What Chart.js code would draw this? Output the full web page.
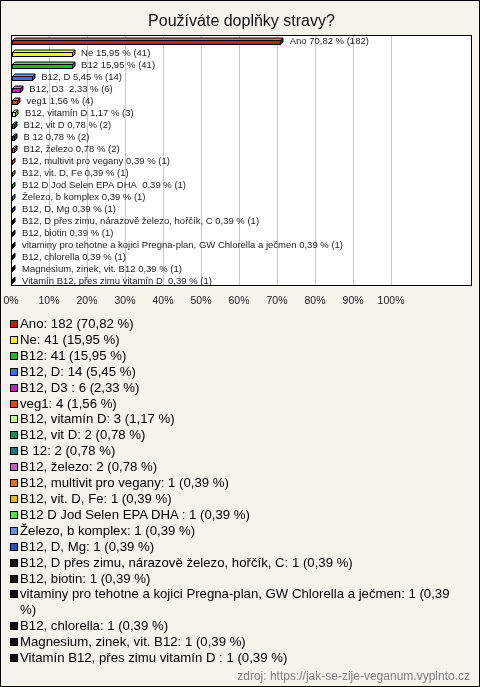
<!DOCTYPE html>
<html>
<head>
<meta charset="utf-8">
<script src="https://cdn.jsdelivr.net/npm/chart.js@4/dist/chart.umd.min.js"></script>
<style>
body { margin: 0; background: #fff; }
#box { position: relative; width: 478px; height: 685px; border: 1px solid #000; background: #f4f3ec;
       font-family: 'Liberation Sans', Arial, sans-serif; overflow: hidden; }
#c { position: absolute; left: 0; top: 0; }
#legend { position: absolute; left: 9px; top: 315px; width: 452px; margin: 0; padding: 0; list-style: none;
          font-size: 13.2px; line-height: 15.9px; color: #000; }
#legend li { display: flex; align-items: flex-start; }
#legend .sw { flex: 0 0 auto; width: 6px; height: 6px; border: 1px solid #000; margin: 4px 2px 0 0; }
#zdroj { position: absolute; right: 9px; top: 668px; font-size: 12px; color: #808080; }
</style>
</head>
<body>
<div id="box">
  <canvas id="c" width="478" height="319"></canvas>
  <ul id="legend"></ul>
  <div id="zdroj">zdroj: https://jak-se-zije-veganum.vyplnto.cz</div>
</div>
<script>
// data
var categories = ['Ano', 'Ne', 'B12', 'B12, D', 'B12, D3 ', 'veg1', 'B12, vitamín D', 'B12, vit D', 'B 12',
    'B12, železo', 'B12, multivit pro vegany', 'B12, vit. D, Fe', 'B12 D Jod Selen EPA DHA ',
    'Železo, b komplex', 'B12, D, Mg', 'B12, D přes zimu, nárazově železo, hořčík, C', 'B12, biotin',
    'vitaminy pro tehotne a kojici Pregna-plan, GW Chlorella a ječmen', 'B12, chlorella',
    'Magnesium, zinek, vit. B12', 'Vitamín B12, přes zimu vitamín D '];
var counts = [182, 41, 41, 14, 6, 4, 3, 2, 2, 2, 1, 1, 1, 1, 1, 1, 1, 1, 1, 1, 1];
var percents = [70.82, 15.95, 15.95, 5.45, 2.33, 1.56, 1.17, 0.78, 0.78, 0.78, 0.39, 0.39, 0.39, 0.39,
    0.39, 0.39, 0.39, 0.39, 0.39, 0.39, 0.39];
var barColors = ['#c0200c', '#ffee22', '#22b822', '#3d6de8', '#c020c0', '#e04818', '#c8f890', '#18905c',
    '#187888', '#c060c0', '#e07018', '#e8b818', '#48e840', '#6890e0', '#2850c0', '#111111', '#111111',
    '#111111', '#111111', '#111111', '#111111'];
var chartTitle = 'Používáte doplňky stravy?';

function czPct(v) {
    return v.toFixed(2).replace('.', ',');
}

function shade(hex, amt) {
    var n = parseInt(hex.slice(1), 16);
    var r = n >> 16, g = (n >> 8) & 255, b = n & 255;
    function f(c) {
        return Math.round(amt > 0 ? c + (255 - c) * amt : c * (1 + amt));
    }
    return 'rgb(' + f(r) + ',' + f(g) + ',' + f(b) + ')';
}

// legend as html list
var ul = document.getElementById('legend');
categories.forEach(function (c, i) {
    var li = document.createElement('li');
    var sw = document.createElement('span');
    sw.className = 'sw';
    sw.style.background = barColors[i];
    var tx = document.createElement('span');
    tx.textContent = c + ': ' + counts[i] + ' (' + czPct(percents[i]) + ' %)';
    li.appendChild(sw);
    li.appendChild(tx);
    ul.appendChild(li);
});

var plotFrame = {
    id: 'plotFrame',
    beforeDraw: function (chart) {
        var a = chart.chartArea, ctx = chart.ctx;
        ctx.save();
        ctx.fillStyle = '#fff';
        ctx.fillRect(a.left, a.top, a.right - a.left, a.bottom - a.top);
        ctx.restore();
    },
    afterDatasetsDraw: function (chart) {
        var ctx = chart.ctx, d = 2.5;
        var meta = chart.getDatasetMeta(0);
        ctx.save();
        ctx.lineWidth = 1;
        ctx.strokeStyle = '#000';
        meta.data.forEach(function (bar, i) {
            var x0 = Math.round(bar.base) + 0.5, x1 = Math.round(bar.x) + 0.5;
            var t = Math.round(bar.y - 1) + 0.5, b = t + 4;
            var col = barColors[i];
            // top face
            ctx.beginPath();
            ctx.moveTo(x0, t); ctx.lineTo(x0 + d, t - d); ctx.lineTo(x1 + d, t - d); ctx.lineTo(x1, t);
            ctx.closePath();
            ctx.fillStyle = shade(col, 0.35);
            ctx.fill(); ctx.stroke();
            // side face
            ctx.beginPath();
            ctx.moveTo(x1, t); ctx.lineTo(x1 + d, t - d); ctx.lineTo(x1 + d, b - d); ctx.lineTo(x1, b);
            ctx.closePath();
            ctx.fillStyle = shade(col, -0.35);
            ctx.fill(); ctx.stroke();
            // front
            ctx.fillStyle = col;
            ctx.fillRect(x0, t, x1 - x0, b - t);
            ctx.strokeRect(x0, t, x1 - x0, b - t);
        });
        ctx.fillStyle = '#222';
        ctx.font = '9.5px "Liberation Sans", Arial, sans-serif';
        ctx.textBaseline = 'middle';
        meta.data.forEach(function (bar, i) {
            var s = categories[i] + ' ' + czPct(percents[i]) + ' % (' + counts[i] + ')';
            ctx.fillText(s, bar.x + 9.5, bar.y + 0.5);
        });
        ctx.restore();
    },
    afterDraw: function (chart) {
        var a = chart.chartArea, ctx = chart.ctx;
        ctx.save();
        ctx.strokeStyle = '#000';
        ctx.lineWidth = 1;
        ctx.strokeRect(Math.round(a.left) + 0.5, Math.round(a.top) + 0.5,
            Math.round(a.right - a.left) - 1, Math.round(a.bottom - a.top) - 1);
        ctx.restore();
    }
};

new Chart(document.getElementById('c').getContext('2d'), {
    type: 'bar',
    data: {
        labels: categories,
        datasets: [{
            data: percents,
            backgroundColor: 'rgba(0,0,0,0)',
            borderWidth: 0
        }]
    },
    options: {
        indexAxis: 'y',
        responsive: false,
        animation: false,
        layout: { padding: { left: 10, right: 7, top: 0, bottom: 5 } },
        plugins: {
            legend: { display: false },
            tooltip: { enabled: false },
            title: {
                display: true,
                text: chartTitle,
                color: '#111',
                font: { size: 16, family: "'Liberation Sans', Arial, sans-serif", weight: 'normal' },
                padding: { top: 11, bottom: 3.8 }
            }
        },
        scales: {
            y: { display: false },
            x: {
                min: 0,
                max: 121.3,
                border: { display: false },
                afterFit: function (s) { s.paddingLeft = 0; s.paddingRight = 0; },
                grid: {
                    color: function (c) { return c.tick && c.tick.value <= 100 ? '#c8c8c8' : 'rgba(0,0,0,0)'; },
                    drawTicks: false
                },
                ticks: {
                    stepSize: 10,
                    autoSkip: false,
                    maxRotation: 0,
                    padding: 8,
                    color: '#222',
                    font: { size: 10.5, family: "'Liberation Sans', Arial, sans-serif" },
                    callback: function (v) { return v <= 100 ? v + '%' : null; }
                }
            }
        }
    },
    plugins: [plotFrame]
});
</script>
</body>
</html>
